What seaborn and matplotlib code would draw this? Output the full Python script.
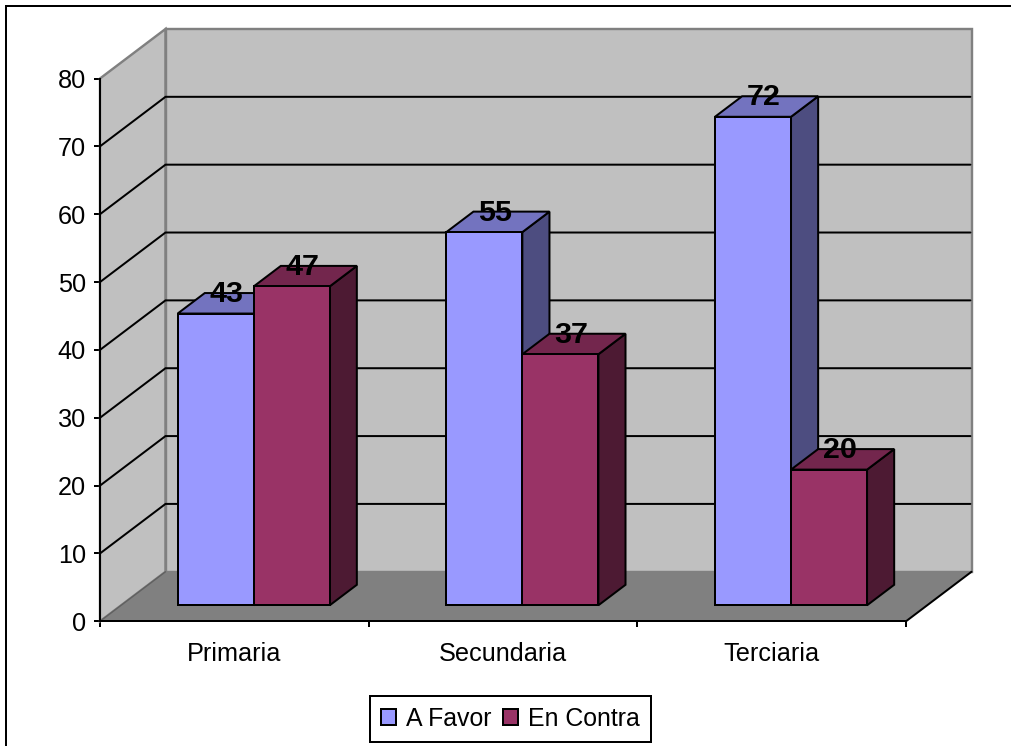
import matplotlib
matplotlib.use("Agg")
import matplotlib.pyplot as plt
from matplotlib.colors import to_rgb
from matplotlib.lines import Line2D
from matplotlib.patches import Polygon
import pandas as pd
import seaborn as sns

# Survey results by education level
niveles = ["Primaria", "Secundaria", "Terciaria"]
a_favor = [43, 55, 72]
en_contra = [47, 37, 20]
series = ["A Favor", "En Contra"]
y_ticks = [0, 10, 20, 30, 40, 50, 60, 70, 80]

COLORS = {"A Favor": "#9999FF", "En Contra": "#993366"}
W, H, DPI = 1012, 746, 100
PX = 72 / DPI  # one pixel in points
TEXT_PX = 25.3

# Oblique projection of the chart box, in data units
DEPTH_X = 0.2438
DEPTH_Y = 7.3
BAR_NEAR = 0.323
BAR_FAR = 0.737
BAR_NUDGE = -0.0067

sns.set_theme(style="white")
plt.rcParams["font.family"] = ["Liberation Sans", "DejaVu Sans"]

df = pd.DataFrame({
    "nivel": niveles * 2,
    "serie": [series[0]] * 3 + [series[1]] * 3,
    "valor": a_favor + en_contra,
})

fig = plt.figure(figsize=(W / DPI, H / DPI), dpi=DPI, facecolor="white")
ax = fig.add_axes([100 / W, (H - 621.3) / H, 806 / W, 542.8 / H])
ax.patch.set_visible(False)

sns.barplot(
    data=df, x="nivel", y="valor", hue="serie", order=niveles, hue_order=series,
    palette=COLORS, saturation=1, width=0.566, gap=0, errorbar=None,
    edgecolor="black", linewidth=2 * PX, ax=ax,
)
ax.set_xlim(-0.5, 2.5)
ax.set_ylim(0, 80)
ax.set_xlabel("")
ax.set_ylabel("")


def shade(color, factor):
    return tuple(c * factor for c in to_rgb(color))


def add_poly(points, face, edge="black", lw=2.0, zorder=1):
    ax.add_patch(Polygon(points, closed=True, facecolor=face, edgecolor=edge,
                         linewidth=lw * PX, zorder=zorder, clip_on=False,
                         joinstyle="miter"))


# Walls and floor of the box
xl, xr = ax.get_xlim()
ymax = max(y_ticks)
add_poly([(xl, 0), (xl + DEPTH_X, DEPTH_Y), (xl + DEPTH_X, ymax + DEPTH_Y), (xl, ymax)],
         "#C0C0C0", "#808080", 2.4, 0.9)
add_poly([(xl + DEPTH_X, DEPTH_Y), (xr + DEPTH_X, DEPTH_Y),
          (xr + DEPTH_X, ymax + DEPTH_Y), (xl + DEPTH_X, ymax + DEPTH_Y)],
         "#C0C0C0", "#808080", 2.4, 0.9)
add_poly([(xl, 0), (xr, 0), (xr + DEPTH_X, DEPTH_Y), (xl + DEPTH_X, DEPTH_Y)],
         "#808080", "none", 0, 1.0)
ax.plot([xr, xr + DEPTH_X], [0, DEPTH_Y], color="black", lw=2 * PX,
        clip_on=False, zorder=1.2)
ax.plot([xl, xl + DEPTH_X], [0, DEPTH_Y], color="#606060", lw=1.4 * PX,
        clip_on=False, zorder=1.2)

# Gridlines run across the side wall and along the back wall
for tick in y_ticks[1:-1]:
    ax.plot([xl, xl + DEPTH_X, xr + DEPTH_X - 0.004],
            [tick, tick + DEPTH_Y, tick + DEPTH_Y],
            color="black", lw=2 * PX, clip_on=False, zorder=1.5,
            solid_joinstyle="miter")

# Extrude every bar back into the box, left to right
order = 3
for c in range(len(niveles)):
    for s, name in enumerate(series):
        bar = ax.containers[s][c]
        value = bar.get_height()
        x0 = bar.get_x() + BAR_NEAR * DEPTH_X + BAR_NUDGE
        y0 = BAR_NEAR * DEPTH_Y
        width = bar.get_width()
        ddx = (BAR_FAR - BAR_NEAR) * DEPTH_X
        ddy = (BAR_FAR - BAR_NEAR) * DEPTH_Y
        x1, y1 = x0 + width, y0 + value
        add_poly([(x1, y0), (x1 + ddx, y0 + ddy), (x1 + ddx, y1 + ddy), (x1, y1)],
                 shade(COLORS[name], 0.5), zorder=order)
        add_poly([(x0, y1), (x1, y1), (x1 + ddx, y1 + ddy), (x0 + ddx, y1 + ddy)],
                 shade(COLORS[name], 0.75), zorder=order + 0.1)
        bar.set_x(x0)
        bar.set_y(y0)
        bar.set_zorder(order + 0.2)
        bar.set_clip_on(False)
        ax.annotate(f"{value:.0f}", xy=(x0 + width / 2, y1),
                    xytext=(10.8 * PX, 19.5 * PX), textcoords="offset points",
                    ha="center", va="center", fontsize=30.5 * PX, fontweight="bold",
                    color="black", zorder=50, annotation_clip=False)
        order += 1

# Axes: category ticks sit between the groups
for side in ("top", "right"):
    ax.spines[side].set_visible(False)
for side in ("left", "bottom"):
    ax.spines[side].set_color("black")
    ax.spines[side].set_linewidth(2 * PX)

ax.set_yticks(y_ticks)
ax.set_xticks([-0.5, 0.5, 1.5, 2.5])
ax.set_xticklabels([])
ax.set_xticks(range(len(niveles)), minor=True)
ax.set_xticklabels(niveles, minor=True)
ax.tick_params(axis="y", which="major", left=True, length=6 * PX, width=2 * PX,
               color="black", labelsize=TEXT_PX * PX, pad=8 * PX, labelcolor="black")
ax.tick_params(axis="x", which="major", bottom=True, length=6 * PX, width=2 * PX,
               color="black")
ax.tick_params(axis="x", which="minor", bottom=False, length=0, labelsize=TEXT_PX * PX,
               pad=21 * PX, labelcolor="black")

# Legend box below the plot
sns.move_legend(
    ax, loc="center", bbox_to_anchor=(510.3 / W, (H - 719) / H),
    bbox_transform=fig.transFigure, ncol=2, title=None, frameon=True,
    fancybox=False, fontsize=24.9 * PX, handlelength=0.6, handleheight=0.6,
    handletextpad=0.4, columnspacing=0.46, borderpad=0.44, borderaxespad=0,
    framealpha=1, edgecolor="black", labelcolor="black",
)
legend = ax.get_legend()
legend.set_zorder(60)
legend.get_frame().set_linewidth(2 * PX)
for handle, name in zip(legend.get_patches(), series):
    handle.set_facecolor(COLORS[name])
    handle.set_edgecolor("black")
    handle.set_linewidth(2 * PX)

# Outer chart frame: only its top and left edges fall inside the canvas
frame = dict(color="black", lw=2 * PX, transform=fig.transFigure, solid_capstyle="projecting")
fig.add_artist(Line2D([6 / W, 1], [(H - 5.7) / H, (H - 5.7) / H], **frame))
fig.add_artist(Line2D([6 / W, 6 / W], [0, (H - 5.7) / H], **frame))

fig.savefig("out.png", dpi=DPI)
